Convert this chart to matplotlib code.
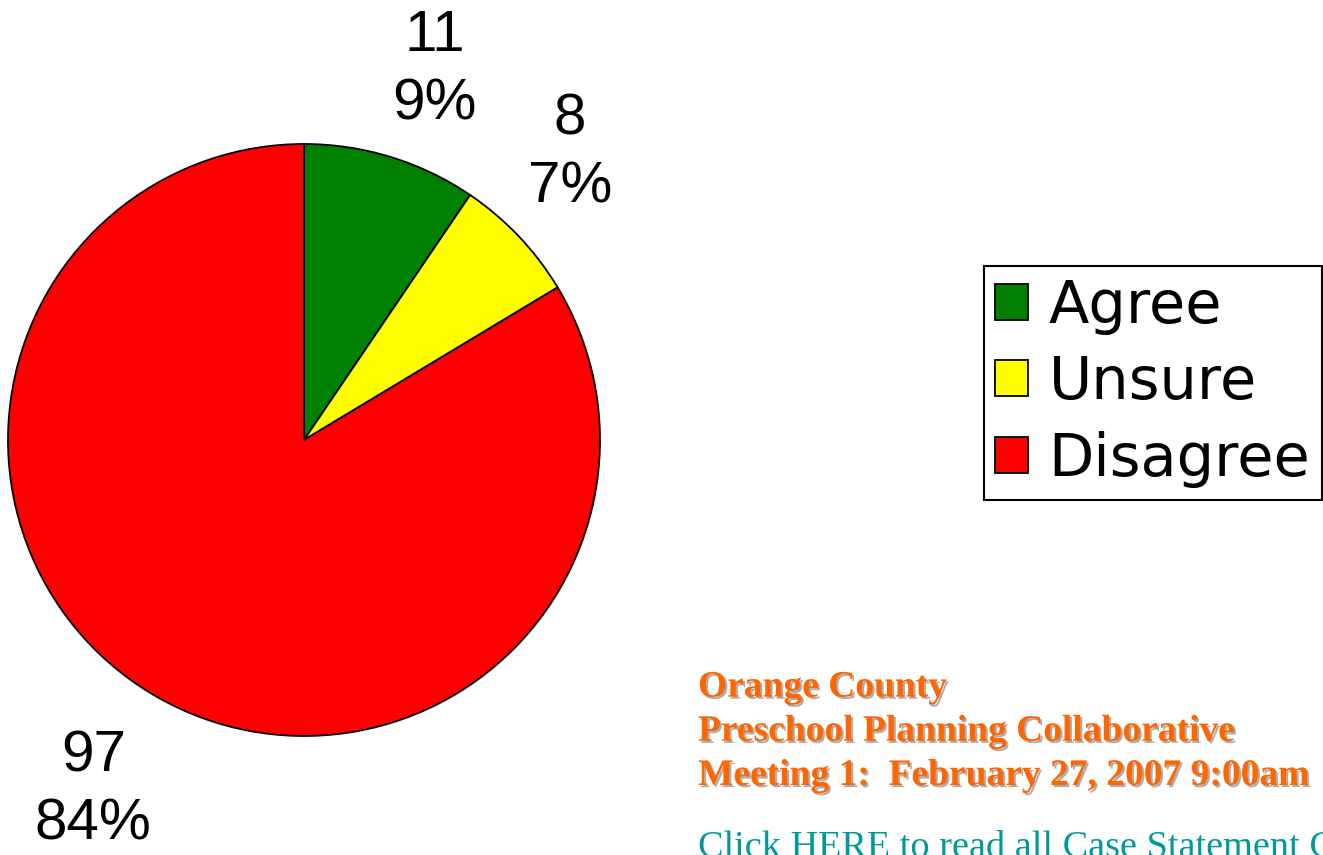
import matplotlib.pyplot as plt
import matplotlib.patheffects as pe
from matplotlib.transforms import offset_copy

labels = ['Agree', 'Unsure', 'Disagree']
counts = [11, 8, 97]
colors = ['#008000', '#FFFF00', '#FF0000']

total = sum(counts)
slice_text = ['%d\n%d%%' % (c, round(c * 100.0 / total)) for c in counts]

# small nudges (in points) so the labels sit where PowerPoint put them
nudges = [(9, -11), (-19, 7), (-9, 0)]

fig = plt.figure(figsize=(13.23, 8.55), dpi=100)
ax = fig.add_axes([8 / 1323, 119 / 855, 592 / 1323, 592 / 855])

wedges, texts = ax.pie(counts, colors=colors, startangle=90, counterclock=False,
                       labels=slice_text, labeldistance=1.36,
                       wedgeprops=dict(edgecolor='black', linewidth=1.3),
                       textprops=dict(fontsize=42, family='Liberation Sans', linespacing=1.35))
for t, (dx, dy) in zip(texts, nudges):
    t.set_horizontalalignment('center')
    t.set_verticalalignment('center')
    t.set_transform(offset_copy(ax.transData, fig=fig, x=dx, y=dy, units='points'))
ax.set_xlim(-1, 1)
ax.set_ylim(-1, 1)
ax.set_aspect('equal')

leg = fig.legend(wedges, labels, loc='upper right', bbox_to_anchor=(1322 / 1323, 1 - 266 / 855),
                 prop=dict(family='DejaVu Sans', size=42.5), frameon=True, fancybox=False,
                 edgecolor='black', framealpha=1, handlelength=0.56, handleheight=0.56,
                 handletextpad=0.34, labelspacing=0.33, borderpad=0.2, borderaxespad=0)
leg.get_frame().set_linewidth(1.5)

shadow = [pe.SimplePatchShadow(offset=(1.5, -1.5), shadow_rgbFace='#999999', alpha=0.8), pe.Normal()]
fig.text(698 / 1323, 1 - 785 / 855, 'Orange County\nPreschool Planning Collaborative\nMeeting 1:  February 27, 2007 9:00am',
         family='Liberation Serif', weight='bold', size=27, color='#FF6600',
         ha='left', va='baseline', linespacing=1.34, path_effects=shadow)
fig.text(698 / 1323, 1 - 857 / 855, 'Click HERE to read all Case Statement Comments',
         family='Liberation Serif', size=27.5, color='#009999', ha='left', va='baseline')

fig.savefig('out.png', dpi=100)
